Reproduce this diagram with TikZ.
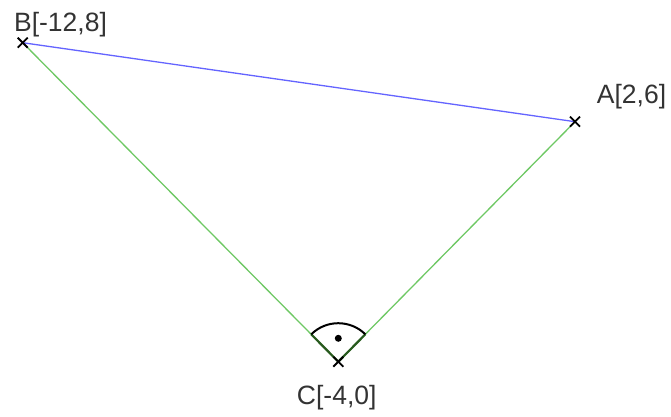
\documentclass[tikz,border=0pt]{standalone}
\usepackage{fontspec}
\setmainfont{Liberation Sans}
\usetikzlibrary{calc}
\definecolor{lineblue}{RGB}{100,100,255}
\definecolor{linegreen}{RGB}{110,200,100}
\definecolor{darkgreen}{RGB}{40,90,30}
\definecolor{labelgray}{RGB}{51,51,51}
\begin{document}
\begin{tikzpicture}[x=1pt,y=1pt,
  cross/.style={draw=black,line width=1.8pt},
  ptlabel/.style={text=labelgray,font=\fontsize{26.5}{30}\selectfont,inner sep=0pt,anchor=base},
  sideblue/.style={draw=lineblue,line width=1.3pt},
  sidegreen/.style={draw=linegreen,line width=1.3pt},
  anglearc/.style={draw=black,line width=2pt},
  angleleg/.style={draw=darkgreen,line width=2.2pt}]
\useasboundingbox (0,0) rectangle (671,416);
\coordinate (B) at (22.7,373.3);
\coordinate (A) at (575,294.3);
\coordinate (C) at (338.3,54.3);
% sides
\draw[sideblue] (B) -- (A);
\draw[sidegreen] (B) -- (C);
\draw[sidegreen] (C) -- (A);
% right-angle mark
\coordinate (R1) at ($(C)+(45.4:38.5)$);
\coordinate (R2) at ($(C)+(134.7:38.5)$);
\draw[angleleg] (C) -- (R1);
\draw[angleleg] (C) -- (R2);
\draw[anglearc] (R1) arc[start angle=45.4,end angle=134.7,radius=38.5];
\fill[black] ($(C)+(0,23.4)$) circle (3.5);
% crosses
\foreach \p in {A,B,C}{
  \draw[cross] ($(\p)+(-5,-5)$) -- ($(\p)+(5,5)$);
  \draw[cross] ($(\p)+(-5,5)$) -- ($(\p)+(5,-5)$);
}
% labels
\node[ptlabel] (lB) at (60.5,384) {B[-12,8]};
\node[ptlabel] (lA) at (631.5,313) {A[2,6]};
\node[ptlabel] (lC) at (336.7,12) {C[-4,0]};
\end{tikzpicture}
\end{document}
